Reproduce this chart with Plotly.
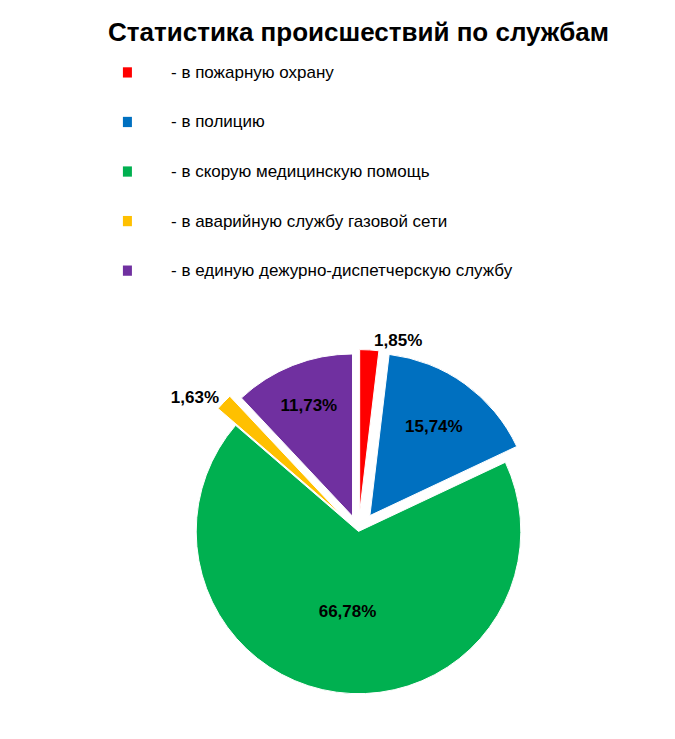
import plotly.graph_objects as go

labels = ["- в пожарную охрану", "- в полицию", "- в скорую медицинскую помощь",
          "- в аварийную службу газовой сети", "- в единую дежурно-диспетчерскую службу"]
values = [1.85, 15.74, 66.78, 1.63, 11.73]
texts = ["1,85%", "15,74%", "66,78%", "1,63%", "11,73%"]
colors = ["#FF0000", "#0070C0", "#00B050", "#FFC000", "#7030A0"]

fig = go.Figure(go.Pie(
    labels=labels, values=values, text=texts, texttemplate="<b>%{text}</b>",
    textposition=["outside", "inside", "inside", "outside", "inside"],
    textfont=dict(size=17, color="black", family="Liberation Sans"),
    insidetextorientation="horizontal",
    marker=dict(colors=colors, line=dict(color="white", width=1)),
    pull=[0.12, 0.12, 0, 0.15, 0.1], sort=False, direction="clockwise", rotation=0,
    domain=dict(x=[0.1, 0.9], y=[0.03, 0.54]), showlegend=False,
))

ann = [dict(text="<b>Статистика происшествий по службам</b>", x=0.5, y=0.99, xref="paper", yref="paper",
            showarrow=False, font=dict(size=26, family="Liberation Sans", color="black"), xanchor="center", yanchor="top")]
shapes = []
for i, (lab, c) in enumerate(zip(labels, colors)):
    y = 0.912 - i * 0.0677
    shapes.append(dict(type="rect", xref="paper", yref="paper", x0=0.108, x1=0.123, y0=y - 0.007, y1=y + 0.007,
                       fillcolor=c, line=dict(width=0)))
    ann.append(dict(text=lab, x=0.185, y=y, xref="paper", yref="paper", showarrow=False, xanchor="left",
                    yanchor="middle", font=dict(size=17, family="Liberation Sans", color="black")))

fig.update_layout(width=675, height=739, margin=dict(l=0, r=0, t=0, b=0), paper_bgcolor="white",
                  annotations=ann, shapes=shapes)
fig.write_html("out.html")
